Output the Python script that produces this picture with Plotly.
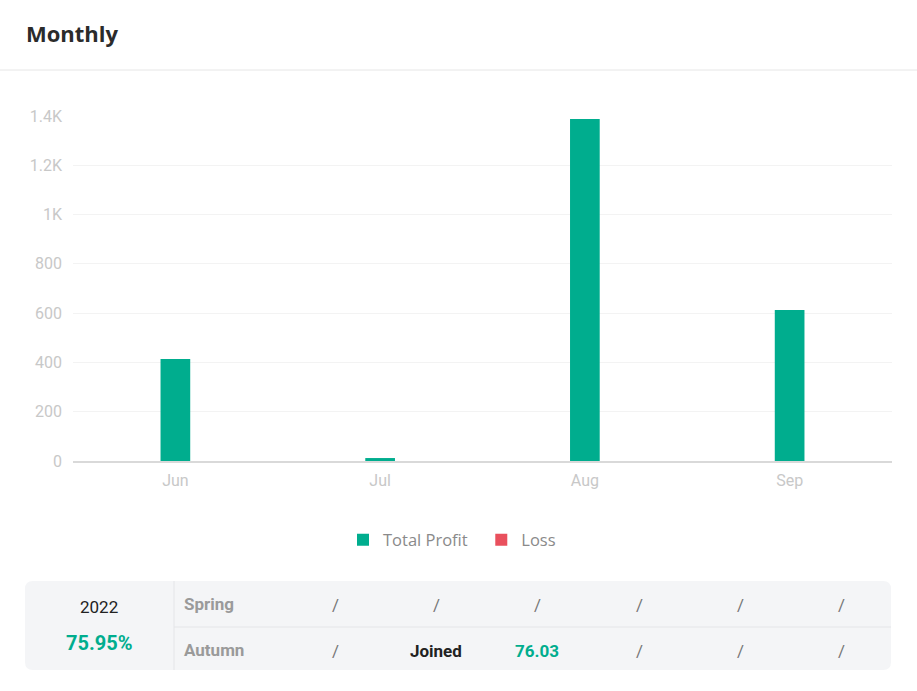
import plotly.graph_objects as go

months = ["Jun", "Jul", "Aug", "Sep"]
total_profit = [414, 12, 1388, 613]
loss = [0, 0, 0, 0]
y_ticks = [0, 200, 400, 600, 800, 1000, 1200, 1400]
y_tick_labels = ["0", "200", "400", "600", "800", "1K", "1.2K", "1.4K"]

year_label = "2022"
year_return = "75.95%"
row_labels = ["Spring", "Autumn"]
spring_cells = ["/", "/", "/", "/", "/", "/"]
autumn_cells = ["/", "Joined", "76.03", "/", "/", "/"]

W, H = 917, 691
L, R, T, B = 73, 25, 116, 230
PW = W - L - R
PH = H - T - B


def px(x):
    return (x - L) / PW


def py(y):
    return (H - B - y) / PH


GREEN = "#00ad8e"
RED = "#e9505d"

fig = go.Figure()
fig.add_trace(go.Bar(x=months, y=total_profit, name="Total Profit\u00a0\u00a0",
                     marker=dict(color=GREEN, line=dict(width=0)), width=0.145))
fig.add_trace(go.Bar(x=months, y=loss, name="Loss",
                     marker=dict(color=RED, line=dict(width=0)), width=0.145))

shapes = []
annotations = []


def ann(text, x, y, size, color, xanchor="center", family="Roboto"):
    annotations.append(dict(text=text, xref="paper", yref="paper",
                            x=px(x), y=py(y), xanchor=xanchor, yanchor="middle",
                            showarrow=False,
                            font=dict(family=family, size=size, color=color)))


# header separator
shapes.append(dict(type="line", xref="paper", yref="paper",
                   x0=px(0), x1=px(W), y0=py(70), y1=py(70),
                   line=dict(color="#e6e6e6", width=1)))
ann("<b>Monthly</b>", 24, 33, 22, "#2b2b2b", xanchor="left", family="Open Sans")

# table background (rounded rect)
x0, x1, y0, y1, r = 25, 891, 581, 670, 8
path = (f"M {px(x0 + r)} {py(y0)} L {px(x1 - r)} {py(y0)} "
        f"Q {px(x1)} {py(y0)} {px(x1)} {py(y0 + r)} L {px(x1)} {py(y1 - r)} "
        f"Q {px(x1)} {py(y1)} {px(x1 - r)} {py(y1)} L {px(x0 + r)} {py(y1)} "
        f"Q {px(x0)} {py(y1)} {px(x0)} {py(y1 - r)} L {px(x0)} {py(y0 + r)} "
        f"Q {px(x0)} {py(y0)} {px(x0 + r)} {py(y0)} Z")
shapes.append(dict(type="path", xref="paper", yref="paper", path=path,
                   fillcolor="#f4f5f7", line=dict(width=0), layer="below"))
shapes.append(dict(type="line", xref="paper", yref="paper",
                   x0=px(174), x1=px(174), y0=py(y0), y1=py(y1),
                   line=dict(color="#e4e5e8", width=1)))
shapes.append(dict(type="line", xref="paper", yref="paper",
                   x0=px(174), x1=px(x1), y0=py(627), y1=py(627),
                   line=dict(color="#e4e5e8", width=1)))

ann(year_label, 99, 607, 17, "#222222")
ann("<b>" + year_return + "</b>", 99, 643, 20, GREEN)

col_x = [335, 436, 537, 639, 740, 841]
for label, ry, cells in [(row_labels[0], 604, spring_cells), (row_labels[1], 650, autumn_cells)]:
    ann("<b>" + label + "</b>", 182, ry, 17, "#9a9a9a", xanchor="left")
    for cx, c in zip(col_x, cells):
        if c == "/":
            ann("/", cx, ry + 1, 17, "#777777")
        elif c == "Joined":
            ann("<b>Joined</b>", cx, ry + 1, 17, "#222222")
        else:
            ann("<b>" + c + "</b>", cx, ry + 1, 17, GREEN)

fig.update_layout(
    width=W, height=H,
    margin=dict(l=L, r=R, t=T, b=B),
    paper_bgcolor="white", plot_bgcolor="white",
    barmode="overlay",
    showlegend=True,
    legend=dict(orientation="h", x=px(452), y=py(540), xanchor="center", yanchor="middle",
                font=dict(family="Open Sans", size=16.5, color="#8a8a8a"),
                itemwidth=30, traceorder="normal"),
    xaxis=dict(showgrid=False, showline=True, linecolor="#d9d9d9", linewidth=1.5,
               ticks="", tickfont=dict(family="Roboto", size=16, color="#c8c8c8"),
               ticklabelstandoff=4, fixedrange=True),
    yaxis=dict(range=[0, 1400], tickvals=y_ticks, ticktext=y_tick_labels,
               showgrid=True, gridcolor="#f3f3f3", zeroline=False,
               tickfont=dict(family="Roboto", size=16, color="#c8c8c8"),
               ticklabelstandoff=10, fixedrange=True),
    shapes=shapes,
    annotations=annotations,
)

fig.write_html("out.html")
